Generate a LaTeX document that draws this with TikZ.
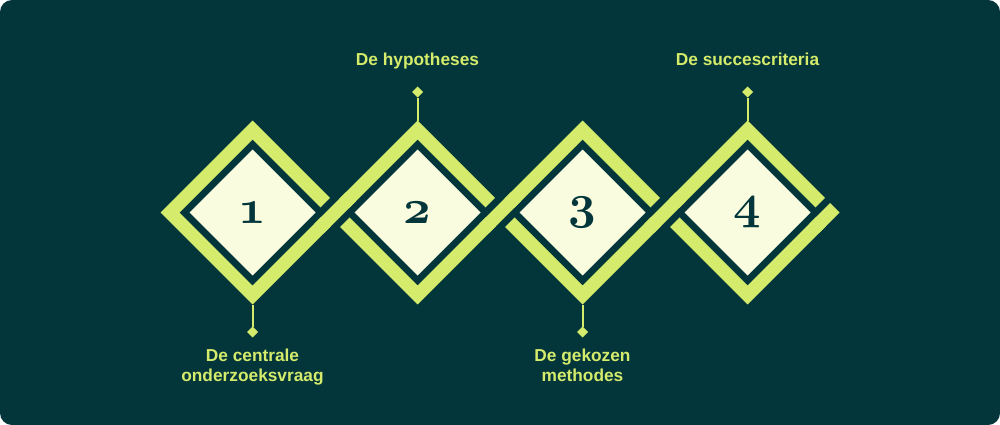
\RequirePackage{fix-cm}
\documentclass[tikz,border=0pt]{standalone}
\usepackage{fontspec}
\setmainfont{Liberation Sans}
\usetikzlibrary{shapes.geometric,calc}
\definecolor{bgteal}{HTML}{03363A}
\definecolor{limeg}{HTML}{D4EB6B}
\definecolor{creamc}{HTML}{FAFCE0}
\newcommand\digitfont{\fontencoding{OML}\fontfamily{cmm}\fontseries{b}\fontshape{it}\fontsize{48}{48}\selectfont}
\begin{document}
\begin{tikzpicture}[x=1pt,y=-1pt,
 ring/.style={draw=limeg,line width=13.43pt,line join=miter,miter limit=10},
 gapline/.style={draw=bgteal,line width=27.5pt},
 overline/.style={draw=limeg,line width=13.43pt},
 cream/.style={diamond,fill=creamc,minimum width=126pt,minimum height=126pt,inner sep=0pt,outer sep=0pt,text=bgteal,font=\digitfont},
 tick/.style={diamond,fill=limeg,minimum width=11pt,minimum height=11pt,inner sep=0pt,outer sep=0pt},
 conn/.style={draw=limeg,line width=2pt},
 lbl/.style={text=limeg,font=\bfseries\fontsize{17.3}{20.5}\selectfont,align=center,inner sep=0pt}
]
\useasboundingbox (0,0) rectangle (1000,425);
\fill[white] (0,0) rectangle (1000,425);
\fill[bgteal,rounded corners=12pt] (0,0) rectangle (1000,425);
\foreach \i/\x in {1/252.5,2/417.5,3/582.5,4/747.5}{
  \coordinate (c\i) at (\x,212.5);
  \coordinate (x\i) at (\x+82.5,212.5);
  \path[ring] (\x-82.5,212.5) -- (\x,130) -- (\x+82.5,212.5) -- (\x,295) -- cycle;
}
\foreach \i in {1,2,3}{
  \draw[gapline] ($(x\i)+(-9,9)$) -- ($(x\i)+(9,-9)$);
  \draw[overline] ($(x\i)+(-16,16)$) -- ($(x\i)+(16,-16)$);
}
\draw[gapline] ($(x4)+(-9,9)$) -- ($(x4)+(9,-9)$);
\draw[overline] ($(x4)+(-16,16)$) -- ($(x4)+(4.75,-4.75)$);
\node[cream] (n1) at (c1) {1};
\node[cream] (n2) at (c2) {2};
\node[cream] (n3) at (c3) {3};
\node[cream] (n4) at (c4) {4};
\coordinate (b1) at (252.5,304.5);
\coordinate (t2) at (417.5,120.5);
\coordinate (b3) at (582.5,304.5);
\coordinate (t4) at (747.5,120.5);
\node[tick] (m1) at (252.5,332) {};
\node[tick] (m2) at (417.5,92) {};
\node[tick] (m3) at (582.5,332) {};
\node[tick] (m4) at (747.5,92) {};
\draw[conn] (b1) -- (m1);
\draw[conn] (t2) -- (m2);
\draw[conn] (b3) -- (m3);
\draw[conn] (t4) -- (m4);
\node[lbl,anchor=base] (l2) at (417.5,66) {De hypotheses};
\node[lbl,anchor=base] (l4) at (747.5,66) {De succescriteria};
\node[lbl,anchor=north] (l1) at (252.5,348.5) {De centrale\\onderzoeksvraag};
\node[lbl,anchor=north] (l3) at (582.5,348.5) {De gekozen\\methodes};
\end{tikzpicture}
\end{document}
